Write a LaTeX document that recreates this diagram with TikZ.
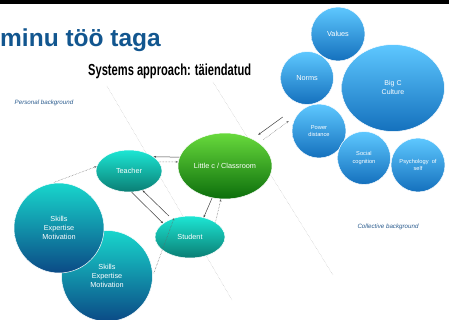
\documentclass[tikz,border=0pt]{standalone}
\usepackage{fontspec}
\setmainfont{Liberation Sans}
\usepackage{xcolor}
\usepackage{graphicx}
\usetikzlibrary{shapes.geometric,arrows.meta}

\definecolor{titleblue}{HTML}{12568F}
\definecolor{labelblue}{HTML}{2B5C8E}
\definecolor{tealtop}{HTML}{1DE6D4}
\definecolor{tealbot}{HTML}{0A7E74}
\definecolor{skilltop}{HTML}{18D6CC}
\definecolor{skillbot}{HTML}{0B4A86}
\definecolor{greentop}{HTML}{68DA3C}
\definecolor{greenbot}{HTML}{0C6E0C}
\definecolor{bluetop}{HTML}{5EC8FF}
\definecolor{bluebot}{HTML}{1470BD}

\newcommand{\fsz}[2]{\fontsize{#1}{#2}\selectfont}

\tikzset{
  bubble/.style={ellipse, inner sep=0pt, draw=white, line width=0.5pt,
    text=white, align=center},
  tealnode/.style={bubble, top color=tealtop, bottom color=tealbot,
    font=\fsz{7.3}{9}},
  skillnode/.style={bubble, top color=skilltop, bottom color=skillbot,
    font=\fsz{7.3}{9}},
  greennode/.style={bubble, top color=greentop, bottom color=greenbot,
    font=\fsz{7.3}{9}},
  bluenode/.style={bubble, top color=bluetop, bottom color=bluebot},
  solidarr/.style={-{Stealth[length=2.5pt,width=2pt]}, line width=0.5pt,
    black!75},
  dotarr/.style={-{Stealth[length=2.5pt,width=2pt]}, densely dotted,
    line width=0.5pt, black!60},
  divider/.style={densely dotted, gray!60, line width=0.4pt},
  bglabel/.style={font=\itshape\fsz{6.2}{7}, text=labelblue},
}

\begin{document}
\begin{tikzpicture}[x=1pt,y=-1pt]
    \useasboundingbox (0,0) rectangle (449,320);
    \clip (0,0) rectangle (449,320);

    % top bar and headings
    \fill[black] (0,0) rectangle (449,4);
    \node[anchor=base west, inner sep=0pt, text=titleblue,
        font=\bfseries\fsz{24.5}{29}]
        (title) at (0,47) {minu töö taga};
    \node[anchor=base west, inner sep=0pt,
        font=\bfseries\fsz{16}{19}]
        (subtitle) at (88,76) {\scalebox{0.695}[1]{Systems approach: täiendatud}};

    % dividing lines
    \coordinate (diva) at (107,86);
    \coordinate (divb) at (232,300);
    \coordinate (divc) at (213,82);
    \coordinate (divd) at (333,275);
    \draw[divider] (diva) -- (divb);
    \draw[divider] (divc) -- (divd);

    \node[bglabel] (personal) at (44,103) {Personal background};
    \node[bglabel] (collective) at (388,227) {Collective background};

    % personal side
    \node[skillnode, minimum width=91, minimum height=91]
        (skillsb) at (107,276) {Skills\\Expertise\\Motivation};
    \node[skillnode, minimum width=90, minimum height=90]
        (skillsa) at (59,228) {Skills\\Expertise\\Motivation};
    \node[tealnode, minimum width=66, minimum height=42]
        (teacher) at (129,171) {Teacher};
    \node[tealnode, minimum width=70, minimum height=42]
        (student) at (190,237) {Student};
    \node[greennode, minimum width=94, minimum height=66]
        (classroom) at (225,166) {Little c / Classroom};

    % collective side
    \node[bluenode, minimum width=54, minimum height=54,
        font=\fsz{7.3}{9}]
        (values) at (338,34) {Values};
    \node[bluenode, minimum width=53, minimum height=53,
        font=\fsz{7.3}{9}]
        (norms) at (307,78) {Norms};
    \node[bluenode, minimum width=103, minimum height=87,
        font=\fsz{7}{9}]
        (culture) at (393,88) {Big C\\Culture};
    \node[bluenode, minimum width=54, minimum height=54,
        font=\fsz{5.7}{7.2}]
        (power) at (319,131) {Power\\distance};
    \node[bluenode, minimum width=53, minimum height=53,
        font=\fsz{5.7}{7.2}]
        (social) at (364,158) {Social\\cognition};
    \node[bluenode, minimum width=54, minimum height=54,
        font=\fsz{5.7}{7.2}]
        (psych) at (418,165) {Psychology~~of\\self};

    % connectors
    \draw[solidarr] (classroom.169) -- (teacher.30);
    \draw[dotarr] (teacher.17) -- (classroom.175);
    \draw[solidarr] (teacher.-83) -- (student.153);
    \draw[solidarr, shorten <=4pt] (student.135) -- (teacher.-55);
    \draw[solidarr] (classroom.248) -- (student.55);
    \draw[dotarr] (student.30) -- (classroom.263);
    \draw[dotarr, shorten <=3pt] (skillsa.100) -- (teacher.172);
    \draw[dotarr, shorten <=3pt] (skillsb.0) -- (student.130);
    \draw[solidarr] ([shift={(-9,-14)}]power.west)
        -- ([shift={(6,-4)}]classroom.45);
    \draw[dotarr] ([shift={(11,1)}]classroom.45)
        -- ([shift={(-3,-10)}]power.west);

\end{tikzpicture}
\end{document}
